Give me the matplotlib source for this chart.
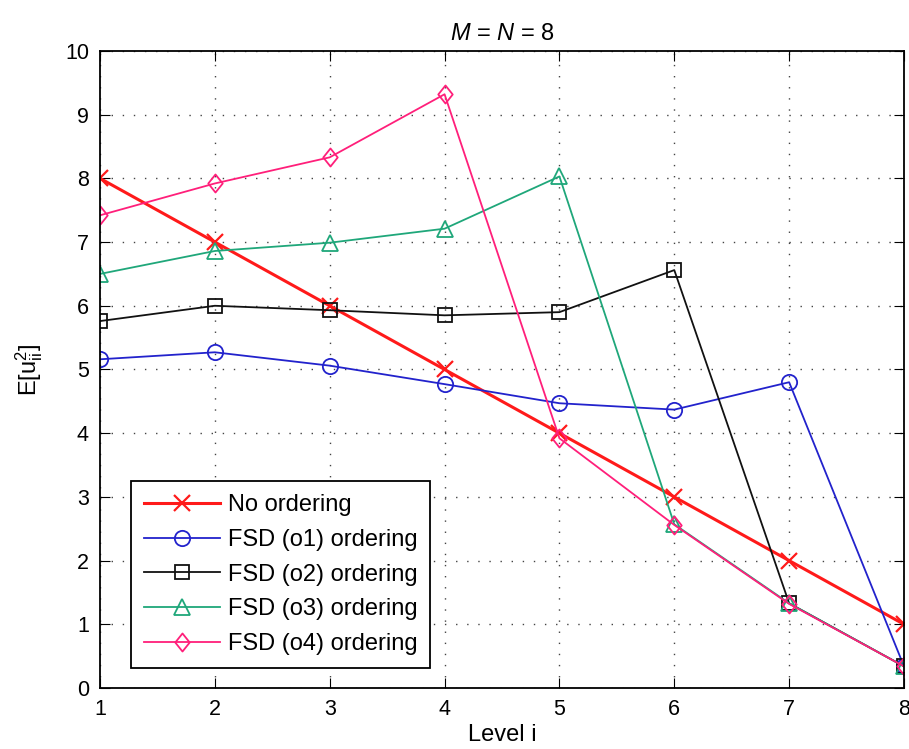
import numpy as np
import matplotlib
matplotlib.use("Agg")
import matplotlib.pyplot as plt
from matplotlib.path import Path

plt.rcParams['font.family'] = ['Liberation Sans', 'DejaVu Sans']
plt.rcParams['mathtext.fontset'] = 'custom'
plt.rcParams['mathtext.rm'] = 'Liberation Sans'
plt.rcParams['mathtext.it'] = 'Liberation Sans:italic'

levels = [1, 2, 3, 4, 5, 6, 7, 8]
no_ordering = [8.0, 7.0, 6.0, 5.0, 4.0, 3.0, 2.0, 1.0]
fsd_o1 = [5.16, 5.27, 5.06, 4.77, 4.47, 4.37, 4.80, 0.34]
fsd_o2 = [5.76, 6.00, 5.93, 5.85, 5.90, 6.56, 1.33, 0.34]
fsd_o3 = [6.50, 6.86, 6.99, 7.21, 8.03, 2.57, 1.33, 0.34]
fsd_o4 = [7.42, 7.92, 8.33, 9.32, 3.92, 2.56, 1.32, 0.34]

# matlab-like fat diamond
diamond = Path([(0, 1), (0.8, 0), (0, -1), (-0.8, 0), (0, 1)],
               [Path.MOVETO, Path.LINETO, Path.LINETO, Path.LINETO, Path.CLOSEPOLY])

fig = plt.figure(figsize=(9.09, 7.49), dpi=100)
ax = fig.add_axes([0.110, 0.0814, 0.8845, 0.8506])

ax.plot(levels, no_ordering, '-x', color='#ff1a1a', linewidth=2.2, markersize=11, markeredgewidth=1.6, label='No ordering')
ax.plot(levels, fsd_o1, '-o', color='#2222cc', linewidth=1.3, markersize=11, markerfacecolor='none', markeredgewidth=1.3, label='FSD (o1) ordering')
ax.plot(levels, fsd_o2, '-s', color='#111111', linewidth=1.3, markersize=10, markerfacecolor='none', markeredgewidth=1.3, label='FSD (o2) ordering')
ax.plot(levels, fsd_o3, '-^', color='#1fa77a', linewidth=1.3, markersize=11, markerfacecolor='none', markeredgewidth=1.3, label='FSD (o3) ordering')
ax.plot(levels, fsd_o4, '-', marker=diamond, color='#ff1f7a', linewidth=1.3, markersize=13, markerfacecolor='none', markeredgewidth=1.3, label='FSD (o4) ordering')

ax.set_xlim(1, 8)
ax.set_ylim(0, 10)
ax.set_xticks(levels)
ax.set_yticks(range(0, 11))
ax.grid(True, linestyle=(0, (1, 7)), color='#444444', linewidth=1.0)
ax.tick_params(direction='in', top=True, right=True, labelsize=15.5, length=7, pad=8)
for s in ax.spines.values():
    s.set_linewidth(1.3)

ax.set_title('$M$ = $N$ = 8', fontsize=17, pad=8)
ax.set_xlabel('Level i', fontsize=17, labelpad=3)
ax.set_ylabel(r'E[u$_{\mathrm{ii}}^2$]', fontsize=17, labelpad=14)

leg = ax.legend(loc='lower left', bbox_to_anchor=(0.0386, 0.0314), borderaxespad=0,
                fontsize=17, fancybox=False, edgecolor='black', framealpha=1,
                handlelength=3.2, handletextpad=0.35, labelspacing=0.54, borderpad=0.55)
leg.get_frame().set_linewidth(1.3)

fig.savefig('out.png', dpi=100)
